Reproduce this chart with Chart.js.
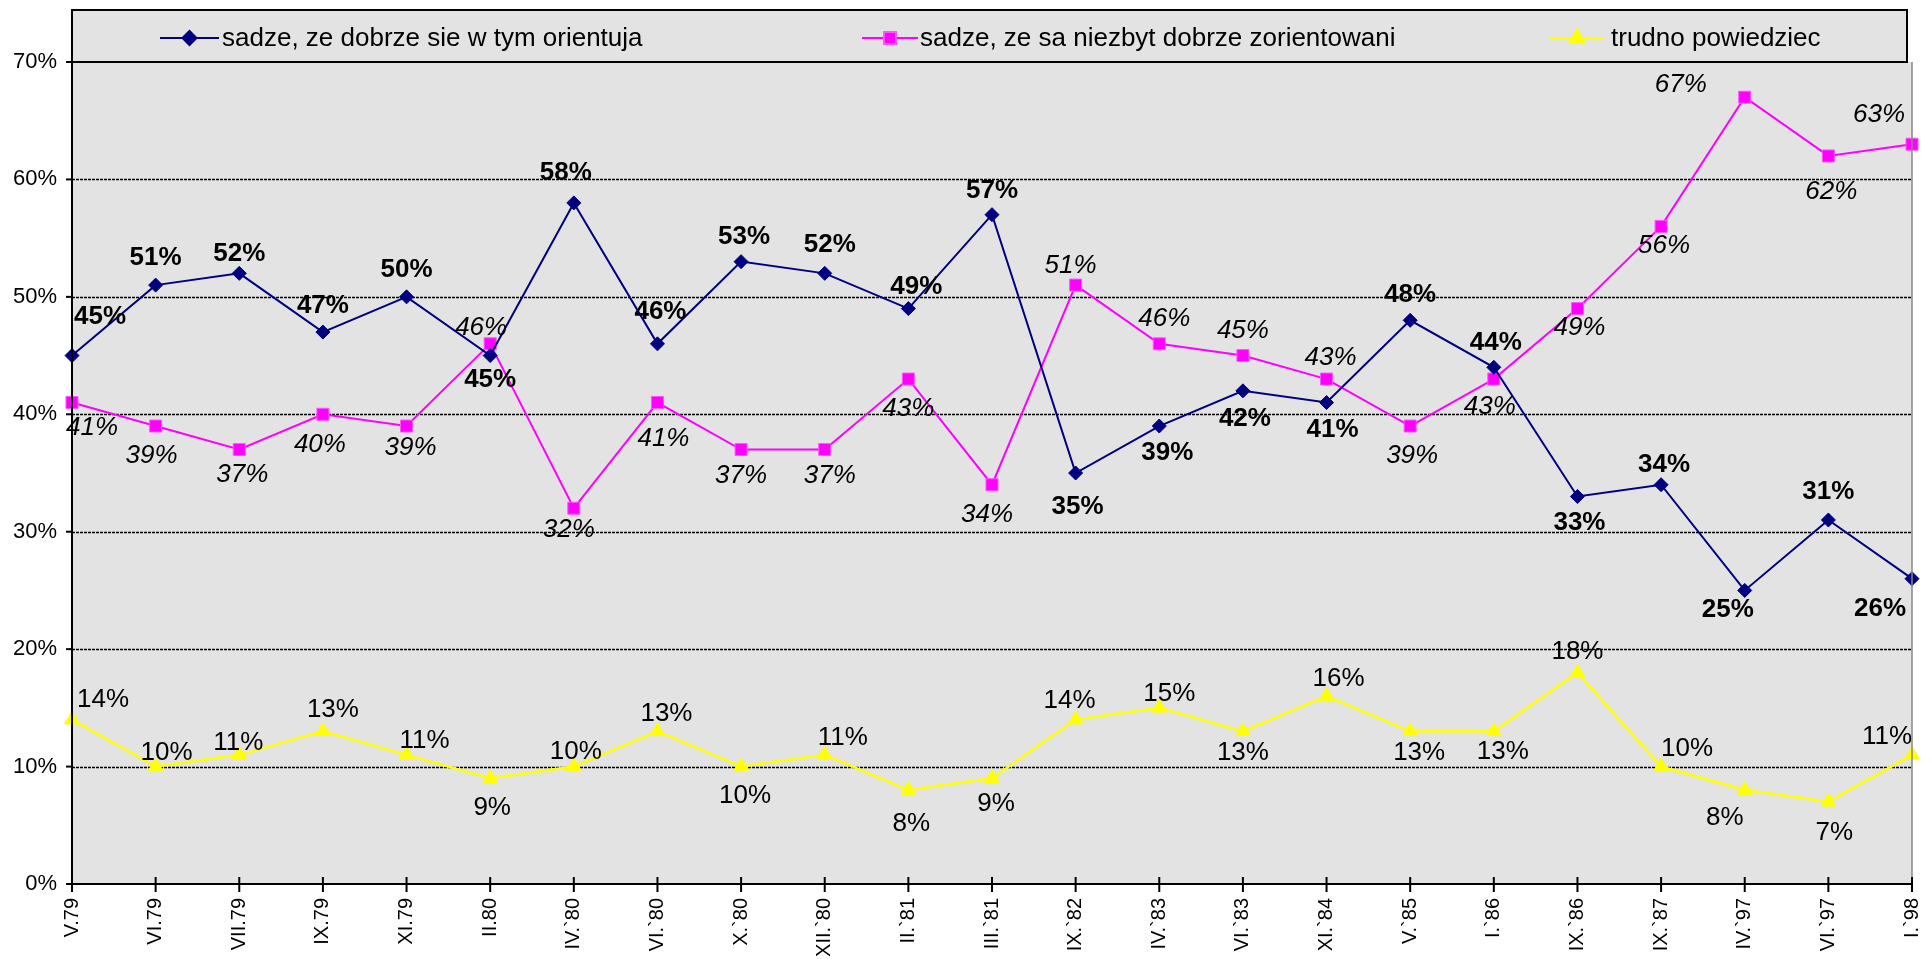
<!DOCTYPE html>
<html>
<head>
<meta charset="utf-8">
<script src="https://cdn.jsdelivr.net/npm/chart.js@4.4.1/dist/chart.umd.min.js"></script>
<style>
  html, body { margin: 0; padding: 0; background: #fff; }
  #wrap { width: 1932px; height: 959px; }
</style>
</head>
<body>
<div id="wrap"><canvas id="chart"></canvas></div>
<script>
// dane z wykresu
const categories = ['V.79', 'VI.79', 'VII.79', 'IX.79', 'XI.79', 'II.80', 'IV.`80', 'VI.`80', 'X.`80', 'XII.`80',
    'II.`81', 'III.`81', 'IX.`82', 'IV.`83', 'VI.`83', 'XI.`84', 'V.`85', 'I.`86', 'IX.`86', 'IX.`87',
    'IV.`97', 'VI.`97', 'I.`98'];
const dobrze = [45, 51, 52, 47, 50, 45, 58, 46, 53, 52, 49, 57, 35, 39, 42, 41, 48, 44, 33, 34, 25, 31, 26];
const niezbyt = [41, 39, 37, 40, 39, 46, 32, 41, 37, 37, 43, 34, 51, 46, 45, 43, 39, 43, 49, 56, 67, 62, 63];
const trudno = [14, 10, 11, 13, 11, 9, 10, 13, 10, 11, 8, 9, 14, 15, 13, 16, 13, 13, 18, 10, 8, 7, 11];
const yTicks = [0, 10, 20, 30, 40, 50, 60, 70];
const seriesNames = ['sadze, ze dobrze sie w tym orientuja', 'sadze, ze sa niezbyt dobrze zorientowani', 'trudno powiedziec'];

// przesuniecia etykiet wzgledem punktow [dx, dy]
const offDobrze = [[28,-39],[0,-27],[0,-20],[0,-26],[0,-27],[0,24],[-8,-30],[3,-32],[3,-25],[5,-29],[8,-22],[0,-24],
    [2,34],[8,27],[2,28],[6,27],[0,-26],[2,-24],[2,26],[3,-20],[-17,19],[0,-28],[-32,30]];
const offNiezbyt = [[20,25],[-4,30],[3,25],[-3,30],[4,22],[-9,-16],[-5,22],[6,36],[0,26],[5,26],[0,30],[-5,30],
    [-5,-19],[5,-25],[0,-25],[4,-21],[2,30],[-4,28],[2,19],[3,19],[-64,-12],[3,36],[-33,-29]];
const offTrudno = [[31,-20],[11,-14],[-1,-12],[10,-22],[18,-14],[2,30],[2,-15],[9,-18],[4,29],[18,-17],[3,34],[4,26],
    [-6,-19],[10,-14],[0,21],[12,-17],[9,21],[9,20],[0,-21],[26,-18],[-20,28],[6,31],[-25,-18]];

const FONT = "'Liberation Sans', Arial, sans-serif";
const labelStyles = [
    { font: 'bold 26px ' + FONT, off: offDobrze },
    { font: 'italic 26px ' + FONT, off: offNiezbyt },
    { font: '26px ' + FONT, off: offTrudno }
];

const ramka = {
    id: 'ramka',
    beforeDatasetsDraw(chart) {
        const { ctx, chartArea: a, scales: { y } } = chart;
        ctx.save();
        ctx.fillStyle = '#e3e3e3';
        ctx.fillRect(a.left, a.top, a.right - a.left, a.bottom - a.top);
        ctx.strokeStyle = '#000';
        ctx.lineWidth = 1.5;
        ctx.setLineDash([3, 1]);
        yTicks.forEach(v => {
            if (v === 0 || v === 70) return;
            const py = Math.round(y.getPixelForValue(v)) + 0.5;
            ctx.beginPath();
            ctx.moveTo(a.left, py);
            ctx.lineTo(a.right, py);
            ctx.stroke();
        });
        ctx.restore();
    },
    afterDatasetsDraw(chart) {
        const { ctx } = chart;
        ctx.save();
        ctx.fillStyle = '#000';
        ctx.textAlign = 'center';
        ctx.textBaseline = 'middle';
        chart.data.datasets.forEach((ds, i) => {
            const st = labelStyles[i];
            ctx.font = st.font;
            chart.getDatasetMeta(i).data.forEach((pt, j) => {
                const o = st.off[j];
                ctx.fillText(ds.data[j] + '%', pt.x + o[0], pt.y + o[1]);
            });
        });
        ctx.restore();
    },
    afterDraw(chart) {
        const { ctx, chartArea: a, scales: { x, y } } = chart;
        ctx.save();
        // prawa krawedz obszaru
        ctx.strokeStyle = '#888';
        ctx.lineWidth = 1.5;
        ctx.beginPath();
        ctx.moveTo(a.right, a.top);
        ctx.lineTo(a.right, a.bottom);
        ctx.stroke();

        // legenda
        const lt = 10;
        ctx.fillStyle = '#e3e3e3';
        ctx.fillRect(a.left, lt, 1907 - a.left, a.top - lt);
        ctx.strokeStyle = '#000';
        ctx.lineWidth = 2;
        ctx.strokeRect(a.left, lt, 1907 - a.left, a.top - lt);

        // osie
        ctx.beginPath();
        ctx.moveTo(a.left, a.top);
        ctx.lineTo(a.left, a.bottom);
        ctx.lineTo(a.right, a.bottom);
        ctx.stroke();
        yTicks.forEach(v => {
            const py = y.getPixelForValue(v);
            ctx.beginPath();
            ctx.moveTo(a.left - 6, py);
            ctx.lineTo(a.left, py);
            ctx.stroke();
        });
        categories.forEach((c, i) => {
            const px = x.getPixelForValue(i);
            ctx.beginPath();
            ctx.moveTo(px, a.bottom - 7);
            ctx.lineTo(px, a.bottom + 8);
            ctx.stroke();
        });

        const ly = 38;
        const items = [[160, 219, 222], [862, 918, 920], [1550, 1604, 1611]];
        ctx.font = '26px ' + FONT;
        ctx.textAlign = 'left';
        ctx.textBaseline = 'middle';
        chart.data.datasets.forEach((ds, i) => {
            const it = items[i];
            ctx.strokeStyle = ds.borderColor;
            ctx.lineWidth = 2;
            ctx.beginPath();
            ctx.moveTo(it[0], ly);
            ctx.lineTo(it[1], ly);
            ctx.stroke();
            ctx.fillStyle = ds.pointBackgroundColor;
            ctx.strokeStyle = ds.pointBorderColor;
            Chart.helpers.drawPoint(ctx, {
                pointStyle: ds.pointStyle, radius: ds.pointRadius, rotation: 0, borderWidth: 1
            }, (it[0] + it[1]) / 2, ly);
            ctx.fillStyle = '#000';
            ctx.fillText(seriesNames[i], it[2], ly + 1);
        });
        ctx.restore();
    }
};

const chart = document.querySelector('#chart').getContext('2d');

new Chart(chart, {
    type: 'line',
    data: {
        labels: categories,
        datasets: [
            {
                label: seriesNames[0],
                data: dobrze,
                borderColor: '#000080',
                pointBackgroundColor: '#000080',
                pointBorderColor: '#000080',
                borderWidth: 2,
                pointStyle: 'rectRot',
                pointRadius: 7,
                pointBorderWidth: 1
            },
            {
                label: seriesNames[1],
                data: niezbyt,
                borderColor: '#ff00ff',
                pointBackgroundColor: '#ff00ff',
                pointBorderColor: '#ff55ff',
                borderWidth: 2,
                pointStyle: 'rect',
                pointRadius: 8.5,
                pointBorderWidth: 1
            },
            {
                label: seriesNames[2],
                data: trudno,
                borderColor: '#ffff00',
                pointBackgroundColor: '#ffff00',
                pointBorderColor: '#ffff00',
                borderWidth: 2.5,
                pointStyle: 'triangle',
                pointRadius: 8.5,
                pointBorderWidth: 1
            }
        ]
    },
    options: {
        responsive: true,
        maintainAspectRatio: false,
        animation: false,
        layout: { padding: { top: 62, right: 20, left: 0, bottom: 0 } },
        plugins: { legend: { display: false }, tooltip: { enabled: false } },
        scales: {
            x: {
                grid: { display: false, drawTicks: false },
                border: { display: false },
                ticks: {
                    color: '#000', font: { family: FONT, size: 20 },
                    minRotation: 90, maxRotation: 90, autoSkip: false, padding: 14
                },
                afterFit(scale) {
                    scale.height = 75;
                    scale.paddingLeft = 0;
                    scale.paddingRight = 0;
                }
            },
            y: {
                min: 0,
                max: 70,
                grid: { display: false, drawTicks: false },
                border: { display: false },
                afterBuildTicks(scale) {
                    scale.ticks = yTicks.map(v => ({ value: v }));
                },
                ticks: {
                    color: '#000', font: { family: FONT, size: 22 }, padding: 15,
                    callback: v => v + '%'
                },
                afterFit(scale) {
                    scale.width = 72;
                }
            }
        }
    },
    plugins: [ramka]
});
</script>
</body>
</html>
